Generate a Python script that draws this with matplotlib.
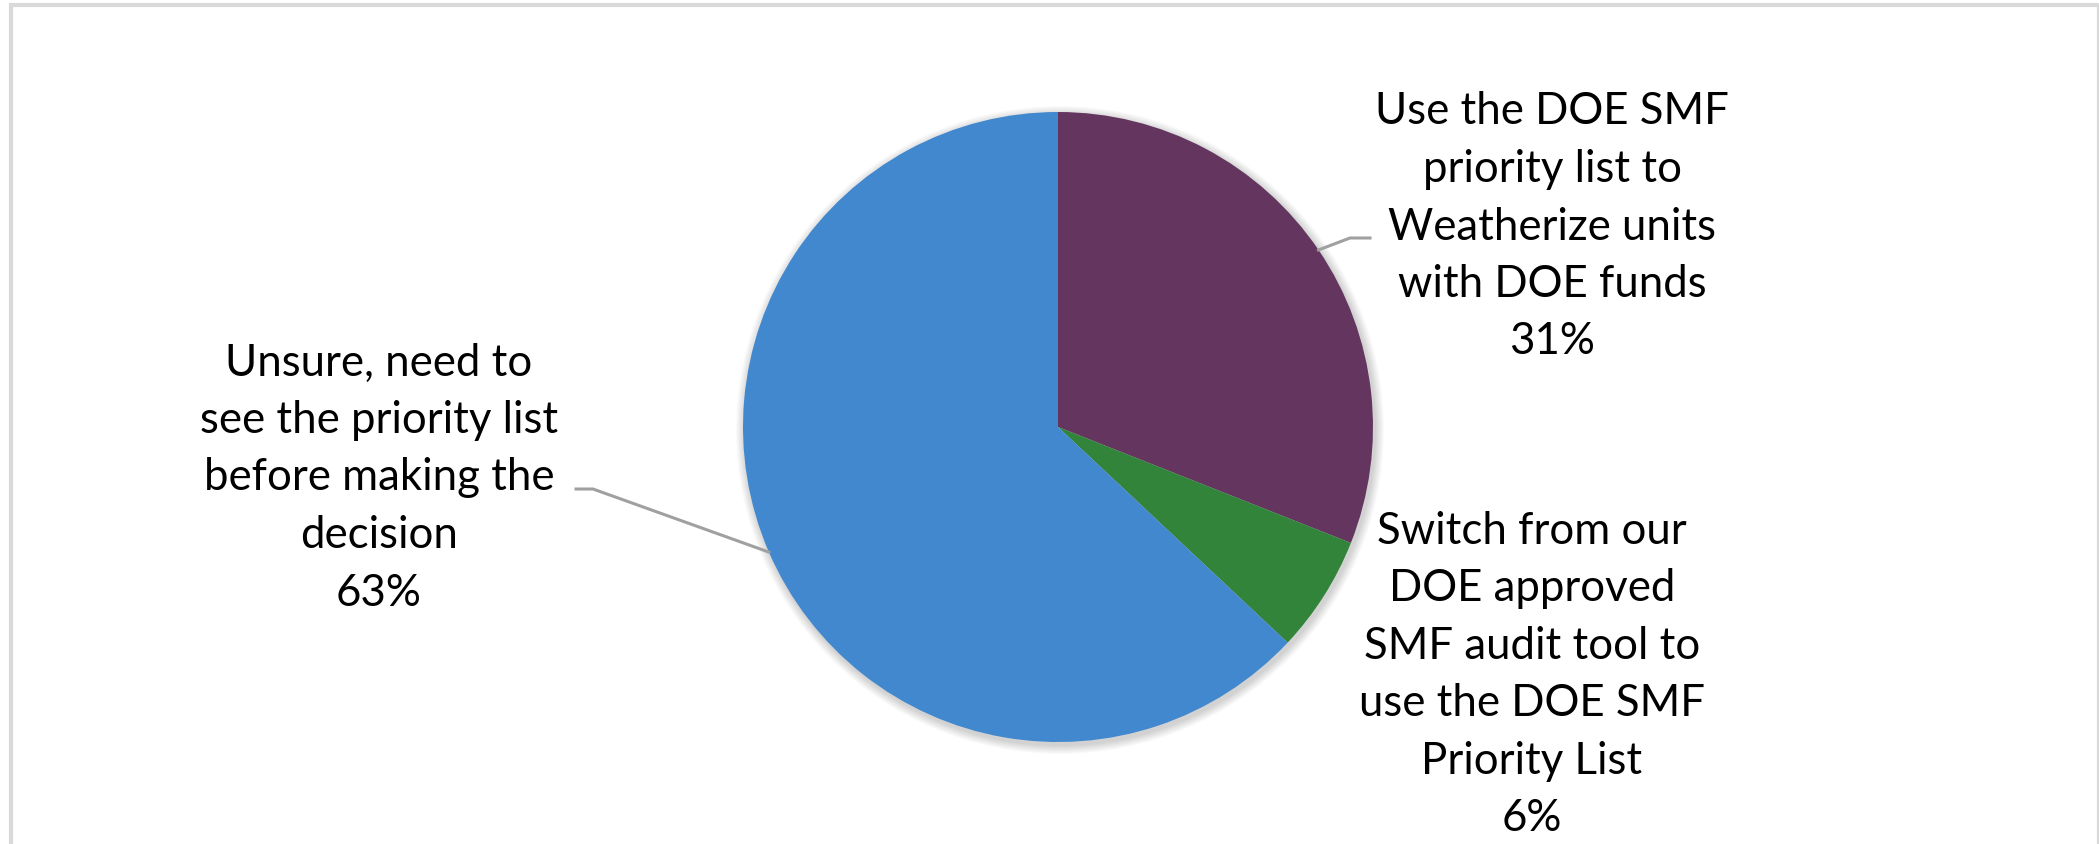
import numpy as np
import matplotlib.pyplot as plt
from matplotlib.patches import Rectangle, Circle

# %% data
labels = [
    "Use the DOE SMF\npriority list to\nWeatherize units\nwith DOE funds",
    "Switch from our\nDOE approved\nSMF audit tool to\nuse the DOE SMF\nPriority List",
    "Unsure, need to\nsee the priority list\nbefore making the\ndecision",
]
shares = [31, 6, 63]
colors = ["#64365F", "#31843A", "#4188CF"]

# %% figure in pixel units
W, H = 2099, 845
fig = plt.figure(figsize=(W / 100, H / 100), dpi=100)
ax = fig.add_axes([0, 0, 1, 1])

cx, cy, r = 1058, H - 428, 315

# soft shadow behind the pie
for k in range(1, 10):
    ax.add_patch(Circle((cx + 2, cy - 3), r + k, color="black", alpha=0.018,
                        lw=0, zorder=0))

wedges, _ = ax.pie(shares, colors=colors, startangle=90, counterclock=False,
                   center=(cx, cy), radius=r, frame=True,
                   wedgeprops=dict(linewidth=0, zorder=1))

ax.set_xlim(0, W)
ax.set_ylim(0, H)
ax.set_aspect("equal")
ax.axis("off")

# label placement (pixel coords from the top-left) and leader elbows
label_pos = [(1552, 227), (1532, 675), (379, 478)]
elbows = [[(1350, 239), (1370, 239)], None, [(593, 490), (576, 490)]]

for w, lab, val, (lx, ly), elb in zip(wedges, labels, shares, label_pos, elbows):
    ax.text(lx, H - ly, f"{lab}\n{val}%", ha="center", va="center",
            fontsize=31.5, family="Lato", linespacing=1.5, color="#000000")
    if elb:
        ang = np.deg2rad((w.theta1 + w.theta2) / 2)
        px, py = cx + r * np.cos(ang), cy + r * np.sin(ang)
        xs = [px] + [e[0] for e in elb]
        ys = [py] + [H - e[1] for e in elb]
        ax.plot(xs, ys, color="#A0A0A0", lw=2.2, zorder=2)

# light chart-area border
fig.patches.append(Rectangle((11 / W, -0.05), (2099.5 - 11) / W, 1.05 - 5.5 / H,
                             transform=fig.transFigure, fill=False,
                             edgecolor="#D9D9D9", lw=3))

fig.savefig("out.png", dpi=100)
